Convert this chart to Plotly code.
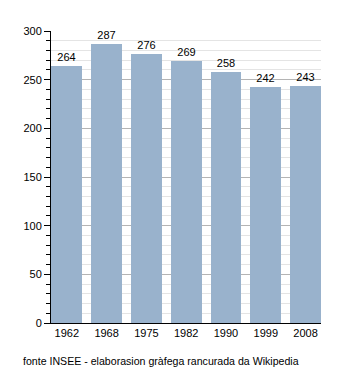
import plotly.graph_objects as go

# Population by census year
years = ["1962", "1968", "1975", "1982", "1990", "1999", "2008"]
population = [264, 287, 276, 269, 258, 242, 243]
source_note = "fonte INSEE - elaborasion gràfega rancurada da Wikipedia"

W, H = 350, 373
L, R, T, B = 50.5, 29, 30.7, 50.3
plot_w = W - L - R
plot_h = H - T - B

positions = list(range(len(years)))
bar_w = 0.775

fig = go.Figure(
    go.Bar(
        x=positions,
        y=population,
        width=bar_w,
        marker=dict(color="#99b2cc", line=dict(width=0)),
        text=[str(v) for v in population],
        textposition="outside",
        textfont=dict(family="Liberation Sans, Arial, sans-serif", size=11, color="#000"),
        cliponaxis=False,
        hoverinfo="skip",
    )
)

fig.update_layout(
    width=W,
    height=H,
    margin=dict(l=L, r=R, t=T, b=B, pad=0),
    paper_bgcolor="white",
    plot_bgcolor="white",
    showlegend=False,
    bargap=0,
    font=dict(family="Liberation Sans, Arial, sans-serif", size=11, color="#000"),
    xaxis=dict(
        range=[-bar_w / 2 - 0.01, len(years) - 1 + bar_w / 2],
        tickvals=positions,
        ticktext=years,
        showgrid=False,
        zeroline=False,
        showline=True,
        linecolor="#000",
        linewidth=1,
        ticks="",
        tickfont=dict(size=11, color="#000"),
        fixedrange=True,
    ),
    yaxis=dict(
        range=[0, 300],
        dtick=50,
        tick0=0,
        showgrid=True,
        gridcolor="#b4b4b4",
        gridwidth=1,
        zeroline=False,
        showline=True,
        linecolor="#000",
        linewidth=1,
        ticks="outside",
        ticklen=6,
        tickcolor="#000",
        tickfont=dict(size=11, color="#000"),
        minor=dict(
            dtick=10,
            tick0=0,
            ticks="outside",
            ticklen=4,
            tickcolor="#000",
            showgrid=True,
            gridcolor="#e4e4e4",
            gridwidth=1,
        ),
        fixedrange=True,
    ),
    annotations=[
        dict(
            text=source_note,
            xref="paper",
            yref="paper",
            x=(20 - L) / plot_w,
            y=(T + plot_h - 361) / plot_h,
            xanchor="left",
            yanchor="middle",
            showarrow=False,
            font=dict(size=10.6, color="#000"),
        )
    ],
)

fig.write_html("out.html")
